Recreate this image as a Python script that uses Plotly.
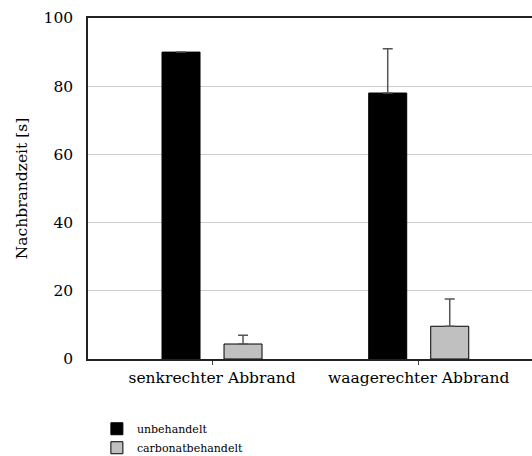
import plotly.graph_objects as go

categories = ["senkrechter Abbrand", "waagerechter Abbrand"]
unbehandelt = [90, 78]
unbehandelt_err = [None, 13]
carbonat = [4.4, 9.6]
carbonat_err = [2.6, 8]

FONT = "DejaVu Serif"

fig = go.Figure()
fig.add_trace(go.Bar(
    x=categories, y=unbehandelt, name="unbehandelt",
    marker=dict(color="black", line=dict(color="black", width=1)),
    error_y=dict(type="data", array=unbehandelt_err, arrayminus=[0, 0], symmetric=False,
                 color="#555555", thickness=1.5, width=5),
))
fig.add_trace(go.Bar(
    x=categories, y=carbonat, name="carbonatbehandelt",
    marker=dict(color="#c0c0c0", line=dict(color="black", width=1)),
    error_y=dict(type="data", array=carbonat_err, arrayminus=[0, 0], symmetric=False,
                 color="#555555", thickness=1.5, width=5),
))

fig.update_layout(
    width=532, height=456,
    margin=dict(l=88, r=0, t=18, b=97, autoexpand=False),
    paper_bgcolor="white", plot_bgcolor="white",
    barmode="group", bargap=0.4, bargroupgap=0.387,
    font=dict(family=FONT, color="black"),
    showlegend=True,
    legend=dict(orientation="v",
                x=0.02, y=-0.162, xanchor="left", yanchor="top",
                font=dict(family=FONT, size=11, color="black"),
                tracegroupgap=0, itemwidth=30, bgcolor="rgba(0,0,0,0)"),
    xaxis=dict(
        type="category", range=[-0.6, 1.548], tickangle=0,
        showline=True, linecolor="#222222", linewidth=1.5, mirror=True,
        ticks="outside", ticklen=4, tickcolor="#444444",
        tickfont=dict(family=FONT, size=15.5, color="black"),
        showgrid=False,
    ),
    yaxis=dict(
        range=[0, 100], tickvals=[0, 20, 40, 60, 80, 100],
        showline=True, linecolor="#222222", linewidth=1.5,
        showgrid=True, gridcolor="#cccccc", gridwidth=1,
        ticks="", ticklabelstandoff=10,
        tickfont=dict(family=FONT, size=15.5, color="black"),
        title=dict(text="Nachbrandzeit [s]", font=dict(family=FONT, size=15.5, color="black"), standoff=12),
        zeroline=False,
    ),
)

fig.write_html("out.html")
